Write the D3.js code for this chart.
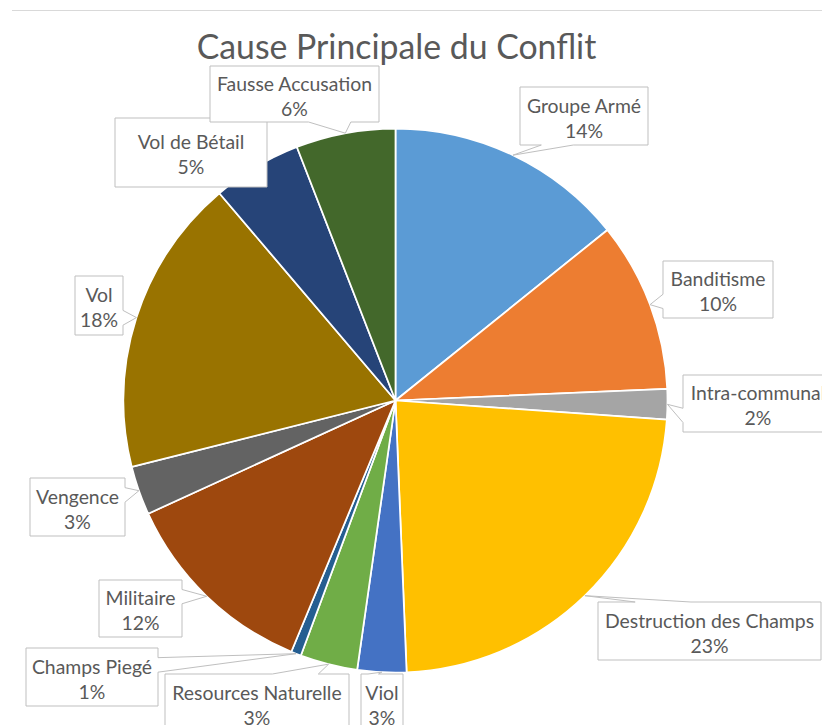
<!DOCTYPE html>
<html>
<head>
<meta charset="utf-8">
<script src="https://cdn.jsdelivr.net/npm/d3@7"></script>
<style>
  html, body { margin: 0; padding: 0; background: #ffffff; }
  svg { display: block; }
</style>
</head>
<body>
<svg id="chart" width="822" height="725"></svg>
<script>
// ---- Data ----
const title = "Cause Principale du Conflit";
const categories = [
  "Groupe Armé", "Banditisme", "Intra-communal", "Destruction des Champs",
  "Viol", "Resources Naturelle", "Champs Piegé", "Militaire",
  "Vengence", "Vol", "Vol de Bétail", "Fausse Accusation"
];
const values = [14.2, 10.1, 1.8, 23.2, 2.9, 3.4, 0.6, 11.9, 2.9, 17.7, 5.3, 5.9];

// ---- Styles / layout ----
const colors = [
  "#5B9BD5", "#ED7D31", "#A5A5A5", "#FFC000",
  "#4472C4", "#70AD47", "#255E91", "#9E480E",
  "#636363", "#997300", "#264478", "#43682B"
];
// callout boxes [x, y, w, h]
const labelBoxes = [
  [520, 87, 128, 58],
  [663, 261, 110, 57],
  [683, 375, 150, 57],
  [598, 602, 223, 58],
  [361, 674, 42, 58],
  [165, 674, 184, 58],
  [26, 648, 132, 58],
  [99, 580, 83, 57],
  [30, 478, 95, 58],
  [75, 276, 48, 59],
  [115, 118, 152, 69],
  [210, 66, 169, 56]
];

const W = 822, H = 725;
const cx = 395.5, cy = 400.5, R = 272;
const fontFamily = "Lato, 'Open Sans', sans-serif";
const textColor = "#595959";

const svg = d3.select("#chart");

svg.append("rect").attr("width", W).attr("height", H).attr("fill", "#fff");
svg.append("line")
  .attr("x1", 12).attr("x2", W).attr("y1", 10.5).attr("y2", 10.5)
  .attr("stroke", "#d9d9d9").attr("stroke-width", 1);

svg.append("text")
  .attr("x", cx + 1).attr("y", 59)
  .attr("text-anchor", "middle")
  .attr("font-family", fontFamily)
  .attr("font-size", 33.8)
  .attr("fill", textColor)
  .text(title);

const data = categories.map((c, i) => ({ name: c, value: values[i], i }));
const total = d3.sum(values);

const pie = d3.pie().value(d => d.value).sort(null);
const arcs = pie(data);
const arc = d3.arc().innerRadius(0).outerRadius(R);

const g = svg.append("g").attr("transform", `translate(${cx},${cy})`);
g.selectAll("path.slice").data(arcs).enter().append("path")
  .attr("class", "slice")
  .attr("d", arc)
  .attr("fill", d => colors[d.data.i])
  .attr("stroke", "#ffffff")
  .attr("stroke-width", 1.75)
  .attr("stroke-linejoin", "round");

function calloutPath(x, y, w, h, px, py) {
  const rectP = `M${x},${y}L${x + w},${y}L${x + w},${y + h}L${x},${y + h}Z`;
  if (px >= x && px <= x + w && py >= y && py <= y + h) return rectP;
  const hc = x + w / 2, vc = y + h / 2;
  const dxPos = px - hc, dyPos = py - vc;
  const dq = dxPos * h / w;
  const dz = Math.abs(dyPos) - Math.abs(dq);
  if (dz > 0) {
    const x1 = x + w * (dxPos > 0 ? 7 : 2) / 12;
    const x2 = x + w * (dxPos > 0 ? 10 : 5) / 12;
    if (dyPos < 0) {
      return `M${x},${y}L${x1},${y}L${px},${py}L${x2},${y}L${x + w},${y}L${x + w},${y + h}L${x},${y + h}Z`;
    }
    return `M${x},${y}L${x + w},${y}L${x + w},${y + h}L${x2},${y + h}L${px},${py}L${x1},${y + h}L${x},${y + h}Z`;
  } else {
    const y1 = y + h * (dyPos > 0 ? 7 : 2) / 12;
    const y2 = y + h * (dyPos > 0 ? 10 : 5) / 12;
    if (dxPos < 0) {
      return `M${x},${y}L${x + w},${y}L${x + w},${y + h}L${x},${y + h}L${x},${y2}L${px},${py}L${x},${y1}Z`;
    }
    return `M${x},${y}L${x + w},${y}L${x + w},${y1}L${px},${py}L${x + w},${y2}L${x + w},${y + h}L${x},${y + h}Z`;
  }
}

const labels = svg.append("g");
arcs.forEach(a => {
  const i = a.data.i;
  const [bx, by, bw, bh] = labelBoxes[i];
  const mid = (a.startAngle + a.endAngle) / 2;
  const px = cx + R * Math.sin(mid);
  const py = cy - R * Math.cos(mid);
  labels.append("path")
    .attr("d", calloutPath(bx, by, bw, bh, px, py))
    .attr("fill", "#ffffff")
    .attr("stroke", "#bfbfbf")
    .attr("stroke-width", 1);
  const tx = bx + bw / 2, ty = by + bh / 2;
  const t = labels.append("text")
    .attr("text-anchor", "middle")
    .attr("font-family", fontFamily)
    .attr("font-size", 19.4)
    .attr("fill", textColor);
  t.append("tspan").attr("x", tx).attr("y", ty - 3.5).text(a.data.name);
  t.append("tspan").attr("x", tx).attr("y", ty + 21.5)
    .text(Math.round(a.data.value / total * 100) + "%");
});
</script>
</body>
</html>
